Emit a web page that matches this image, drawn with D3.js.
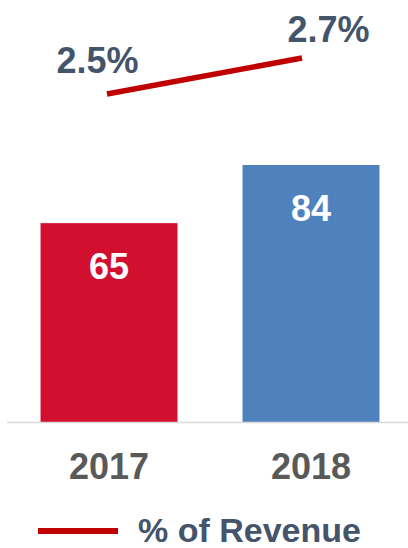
<html>
<head>
    <script src="https://cdn.jsdelivr.net/npm/d3@7"></script>
    <style>
        body { margin: 0; background: #fff; }
        text { font-family: "Liberation Sans", Arial, sans-serif; font-weight: bold; }
    </style>
</head>
<body>
<div id="chart"></div>
<script>
    // data
    const years = ["2017", "2018"];
    const spend = [65, 84];
    const pctRevenue = [2.5, 2.7];
    const barColors = ["#d20f2f", "#4f81bd"];

    const width = 408, height = 548;
    const svg = d3.select("#chart").append("svg")
        .attr("width", width)
        .attr("height", height);

    const x = d3.scaleBand().domain(years).range([6, 414]).paddingInner(0.322).paddingOuter(0.171);
    const y = d3.scaleLinear().domain([0, 84]).range([422, 165]);

    // line uses its own placement, a bit narrower than bar centres
    const xl = d3.scalePoint().domain(years).range([107, 302]);
    const yl = d3.scaleLinear().domain([2, 3]).range([184, 4]);

    // bars
    svg.append("g")
        .selectAll("rect")
        .data(spend)
        .join("rect")
        .attr("x", (d, i) => x(years[i]))
        .attr("width", x.bandwidth())
        .attr("y", d => y(d))
        .attr("height", d => y(0) - y(d))
        .attr("fill", (d, i) => barColors[i]);

    // bar value labels
    svg.append("g")
        .selectAll("text")
        .data(spend)
        .join("text")
        .attr("x", (d, i) => x(years[i]) + x.bandwidth() / 2)
        .attr("y", d => y(d) + 56)
        .attr("text-anchor", "middle")
        .attr("font-size", 36)
        .attr("fill", "#fff")
        .text(d => d);

    // baseline
    svg.append("line")
        .attr("x1", 7).attr("x2", width)
        .attr("y1", y(0) + 0.5).attr("y2", y(0) + 0.5)
        .attr("stroke", "#d9d9d9")
        .attr("stroke-width", 1.5);

    // year labels
    svg.append("g")
        .selectAll("text")
        .data(years)
        .join("text")
        .attr("x", d => x(d) + x.bandwidth() / 2)
        .attr("y", 479)
        .attr("text-anchor", "middle")
        .attr("font-size", 36)
        .attr("fill", "#595959")
        .text(d => d);

    // % of revenue line
    const line = d3.line()
        .x((d, i) => xl(years[i]))
        .y(d => yl(d));

    svg.append("path")
        .datum(pctRevenue)
        .attr("d", line)
        .attr("fill", "none")
        .attr("stroke", "#c00000")
        .attr("stroke-width", 5.5);

    const labelDx = [-9.5, 26.5];
    const labelDy = [-21, -16];
    svg.append("g")
        .selectAll("text")
        .data(pctRevenue)
        .join("text")
        .attr("x", (d, i) => xl(years[i]) + labelDx[i])
        .attr("y", (d, i) => yl(d) + labelDy[i])
        .attr("text-anchor", "middle")
        .attr("font-size", 36)
        .attr("fill", "#44546a")
        .text(d => d3.format(".1f")(d) + "%");

    // legend
    svg.append("line")
        .attr("x1", 38).attr("x2", 118)
        .attr("y1", 531).attr("y2", 531)
        .attr("stroke", "#c00000")
        .attr("stroke-width", 6);
    svg.append("text")
        .attr("x", 138)
        .attr("y", 542)
        .attr("font-size", 34)
        .attr("fill", "#44546a")
        .text("% of Revenue");
</script>
</body>
</html>
